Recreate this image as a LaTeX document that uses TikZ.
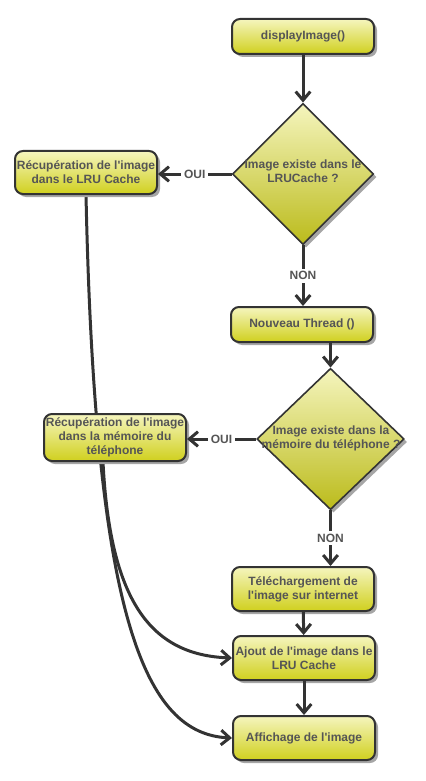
\documentclass[tikz,border=0pt]{standalone}
\usepackage{fontspec}
\setmainfont{Liberation Sans}
\usetikzlibrary{arrows.meta,shapes.geometric,shadows,backgrounds}
\definecolor{ytop}{RGB}{245,245,190}
\definecolor{ybot}{RGB}{208,208,30}
\definecolor{txtgray}{RGB}{85,85,85}
\definecolor{edgegray}{RGB}{51,51,51}
\newcommand{\q}{\textquotesingle}

\begin{document}
\begin{tikzpicture}
	 [x=0.75pt,y=-0.75pt,
	  every node/.style={font=\fontsize{9pt}{10.5pt}\selectfont\bfseries,text=txtgray,align=center},
	  box/.style={rectangle,rounded corners=6pt,draw=edgegray,line width=1.5pt,top color=ytop,bottom color=ybot,minimum width=106.5pt,inner sep=1pt,drop shadow={shadow xshift=2.25pt,shadow yshift=-2.25pt,fill=black!35,opacity=1}},
	  ques/.style={diamond,draw=edgegray,line width=1.2pt,top color=ytop,bottom color=ybot!90!black,inner sep=0pt,drop shadow={shadow xshift=2.25pt,shadow yshift=-2.25pt,fill=black!35,opacity=1}},
	  lbl/.style={fill=white,inner sep=2pt},
	  arr/.style={draw=edgegray,line width=2.25pt,-{Straight Barb[length=6.5pt,width=11pt]}}]
	\useasboundingbox (0,0) rectangle (425,781);

	  \node (start)[box,minimum height=26.25pt] at (303,36.5) {displayImage()};
	  \node (q1)[ques,minimum width=106pt,minimum height=106pt] at (303,174) {};
	  \node (q1txt) at (303,171) {Image existe dans le\\LRUCache ?};
	  \node (lru)[box,minimum height=32.25pt] at (86,172.5) {R\'ecup\'eration de l\q image\\dans le LRU Cache};
	  \node (thread)[box,minimum height=26.25pt] at (302,324.5) {Nouveau Thread ()};
	  \node (q2)[ques,minimum width=110.5pt,minimum height=106pt] at (330.5,439) {};
	  \node (q2txt) at (331,438) {Image existe dans la\\m\'emoire du t\'el\'ephone ?};
	  \node (mem)[box,minimum height=35.25pt] at (115,437.5) {R\'ecup\'eration de l\q image\\dans la m\'emoire du\\t\'el\'ephone};
	  \node (tele)[box,minimum height=33pt] at (303,589) {T\'el\'echargement de\\l\q image sur internet};
	  \node (ajout)[box,minimum height=33pt] at (304,658) {Ajout de l\q image dans le\\LRU Cache};
	  \node (aff)[box,minimum height=33pt] at (304,738) {Affichage de l\q image};

	\foreach \from/\to in {start/q1,tele/ajout,ajout/aff}
    \draw[arr] (\from) -- (\to);

    \draw[arr] (q1.west) -- node[lbl]{OUI} (q1.west -| lru.east);
    \draw[arr] (q1.south) -- node[lbl]{NON} (q1.south |- thread.north);
    \draw[arr] (thread.south -| q2.north) -- (q2.north);
    \draw[arr] (q2.west) -- node[lbl]{OUI} (q2.west -| mem.east);
    \draw[arr] (q2.south) -- node[lbl]{NON} (q2.south |- tele.north);

    \begin{pgfonlayer}{background}
    \draw[arr] (lru.south) .. controls (95,620) and (145,734) .. (aff.west);
    \draw[arr] ([xshift=-9pt]mem.south) .. controls (110,600) and (150,655) .. (ajout.west);
    \end{pgfonlayer}

\end{tikzpicture}
\end{document}
